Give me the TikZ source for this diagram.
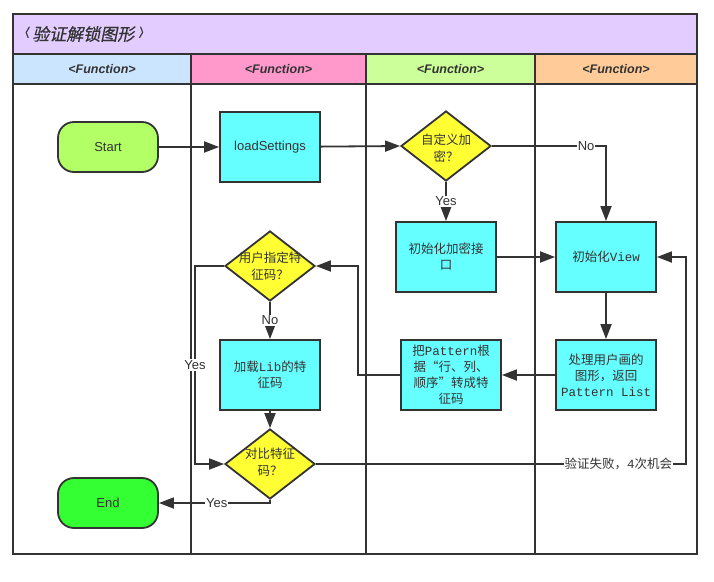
\documentclass[tikz,border=0pt]{standalone}
\usepackage{fontspec}
\setmainfont{Liberation Sans}
\setmonofont{Liberation Mono}
\newfontfamily\cjk{Noto Sans CJK SC}
\newfontfamily\cjkslant{Noto Sans CJK SC}[FakeSlant=0.2, FakeBold=0.6]
\usetikzlibrary{shapes.geometric,arrows.meta}

\definecolor{ink}{HTML}{333333}
\definecolor{titlebg}{HTML}{E3CCFF}
\definecolor{lanea}{HTML}{CCE5FF}
\definecolor{laneb}{HTML}{FF99CC}
\definecolor{lanec}{HTML}{CCFF99}
\definecolor{laned}{HTML}{FFCC99}
\definecolor{proc}{HTML}{66FFFF}
\definecolor{decide}{HTML}{FFFF33}
\definecolor{startc}{HTML}{B3FF66}
\definecolor{endc}{HTML}{33FF33}

% tall thin angle brackets for the title
\newcommand{\tbrkl}{\raisebox{-0.5pt}{\scalebox{0.9}[1.7]{\itshape ‹}}}
\newcommand{\tbrkr}{\raisebox{-0.5pt}{\scalebox{0.9}[1.7]{\itshape ›}}}

\tikzset{
  frame/.style={draw=ink, line width=2pt},
  hdr/.style={font=\bfseries\itshape\fontsize{12.5}{14}\selectfont, text=ink},
  process/.style={rectangle, draw=ink, line width=1.8pt, fill=proc,
    minimum width=100pt, minimum height=70pt, inner sep=0pt,
    align=center, text=ink, font=\cjk\fontsize{12.5}{16}\selectfont},
  terminal/.style={rectangle, rounded corners=16pt, draw=ink, line width=1.8pt,
    minimum width=100pt, minimum height=50pt, inner sep=0pt,
    text=ink, font=\fontsize{13}{15}\selectfont},
  decision/.style={diamond, draw=ink, line width=1.8pt, fill=decide,
    minimum width=90pt, minimum height=70pt, inner sep=0pt},
  dtext/.style={align=center, text=ink, font=\cjk\fontsize{12.5}{17}\selectfont},
  flow/.style={draw=ink, line width=1.8pt,
    -{Triangle[length=15pt,width=11pt]}},
  lbl/.style={fill=white, inner sep=1pt, text=ink, font=\fontsize{13}{15}\selectfont},
  clbl/.style={fill=white, inner sep=1pt, text=ink, font=\cjk\fontsize{12.5}{15}\selectfont},
}

\begin{document}
\begin{tikzpicture}[x=1pt, y=-1pt]
\useasboundingbox (0,0) rectangle (714,581);

% swimlane backgrounds
\fill[titlebg] (13,14) rectangle (697,54);
\fill[lanea] (13,54) rectangle (191,84);
\fill[laneb] (191,54) rectangle (366,84);
\fill[lanec] (366,54) rectangle (535,84);
\fill[laned] (535,54) rectangle (697,84);
\fill[white] (13,84) rectangle (697,554);

% swimlane frame
\draw[frame] (13,14) rectangle (697,554);
\draw[frame] (13,54) -- (697,54);
\draw[frame] (13,84) -- (697,84);
\draw[frame] (191,54) -- (191,554);
\draw[frame] (366,54) -- (366,554);
\draw[frame] (535,54) -- (535,554);

% titles
\node[anchor=west, text=ink, inner sep=0pt, font=\fontsize{17}{20}\selectfont] (title) at (25,34) {\tbrkl\kern2pt{\cjkslant 验证解锁图形}\kern4.5pt\tbrkr};
\node[hdr] (hdrA) at (102,69) {<Function>};
\node[hdr] (hdrB) at (278.5,69) {<Function>};
\node[hdr] (hdrC) at (450.5,69) {<Function>};
\node[hdr] (hdrD) at (616,69) {<Function>};

% flow nodes
\node[terminal, fill=startc] (start) at (108,147) {Start};
\node[process, font=\fontsize{13}{15}\selectfont] (load) at (270,147) {loadSettings};
\node[decision] (dec1) at (446,146) {};
\node[dtext] (dec1t) at (446,148) {自定义加\\密？};
\node[process] (enc) at (446,257) {初始化加密接\\口};
\node[process] (view) at (606,257) {初始化{\ttfamily View}};
\node[process] (draw) at (606,375) {处理用户画的\\图形，返回\\{\ttfamily Pattern List}};
\node[process] (patt) at (451,375) {把{\ttfamily Pattern}根\\据“行、列、\\顺序”转成特\\征码};
\node[decision] (dec2) at (270,266) {};
\node[dtext] (dec2t) at (270,266) {用户指定特\\征码？};
\node[process] (lib) at (270,375) {加载{\ttfamily Lib}的特\\征码};
\node[decision] (cmp) at (270,464) {};
\node[dtext] (cmpt) at (270,462) {对比特征\\码？};
\node[terminal, fill=endc] (endn) at (108,503) {End};

% bend points
\coordinate (bendA) at (358,375);
\coordinate (bendB) at (195,266);
\coordinate (bendD) at (686,464);

% connectors
\draw[flow] (start) -- (load);
\draw[flow] (load) -- (dec1.west);
\draw[flow] (dec1.east) -| node[lbl, pos=0.413] {No} (view.north);
\draw[flow] (dec1.south) -- node[lbl] {Yes} (enc.north);
\draw[flow] (enc) -- (view);
\draw[flow] (view) -- (draw);
\draw[flow] (draw) -- (patt);
\draw[flow] (patt.west) -- (bendA) |- (dec2.east);
\draw[flow] (dec2.south) -- node[lbl] {No} (lib.north);
\draw[flow] (dec2.west) -- (bendB) |- node[lbl, pos=0.25] {Yes} (cmp.west);
\draw[flow] (lib.south) -- (cmp.north);
\draw[flow] (cmp.south) |- node[lbl, pos=0.74] {Yes} (endn.east);
\draw[flow] (cmp.east) -- node[clbl, pos=0.817] {验证失败，{\ttfamily 4}次机会} (bendD) |- (view.east);
\end{tikzpicture}
\end{document}
